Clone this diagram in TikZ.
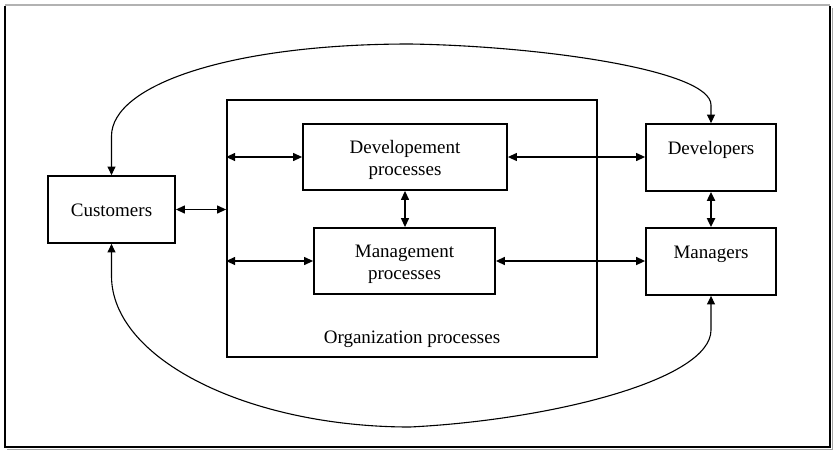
\documentclass[tikz,border=0pt]{standalone}
\usepackage{fontspec}
\setmainfont{Liberation Serif}
\usetikzlibrary{arrows.meta}

% centred lines of box text, set a little below the box's middle
\newcommand\boxtext[1]{\raisebox{-3pt}[\height][\depth]{%
  \begin{tabular}{@{}c@{}}#1\end{tabular}}}

\begin{document}
\begin{tikzpicture}[
  x=1pt, y=-1pt,
  every node/.style={font=\fontsize{19}{21.5}\selectfont, inner sep=0pt, align=center},
  box/.style={draw, line width=1.8pt},
  link/.style={line width=1.2pt, {Triangle[length=9pt,width=8pt]}-{Triangle[length=9pt,width=8pt]}},
  thicklink/.style={link, line width=2pt},
  loopline/.style={line width=1.1pt, {Triangle[length=8.5pt,width=8pt]}-{Triangle[length=8.5pt,width=8pt]}},
]
\useasboundingbox (0,0) rectangle (834,450);

% page frame
\draw[line width=1.8pt] (5,6) -- (5,447) -- (830,447) -- (830,6);
\draw[gray!60, line width=1.5pt] (5,5) -- (830,5);
\draw[gray!70, line width=1.4pt] (832.5,8) -- (832.5,449.3) -- (7,449.3);

% boxes
\node[box, minimum width=127, minimum height=67] (cust) at (111.5,209.5) {\boxtext{Customers}};
\node[box, minimum width=370, minimum height=257] (org) at (412,228.5) {};
\node[anchor=base] (orglabel) at ([yshift=14pt]org.south) {Organization processes};
\node[box, minimum width=204, minimum height=66] (devp) at (405,157) {\boxtext{Developement\\processes}};
\node[box, minimum width=181, minimum height=66] (mgmp) at (404.5,261) {\boxtext{Management\\processes}};
\node[box, minimum width=130, minimum height=67] (devs) at (711,157.5) {\boxtext{Developers\\\strut}};
\node[box, minimum width=130, minimum height=67] (mgrs) at (711,261.5) {\boxtext{Managers\\\strut}};

% straight two-way links
\draw[link] (cust.east) -- (cust.east -| org.west);
\draw[link] (org.west |- devp.west) -- (devp.west);
\draw[link] (org.west |- mgmp.west) -- (mgmp.west);
\draw[link] (devp.east) -- (devp.east -| devs.west);
\draw[link, line width=1.5pt] (mgmp.east) -- (mgmp.east -| mgrs.west);
\draw[link] (devp.south) -- (devp.south |- mgmp.north);
\draw[thicklink] (devs.south) -- (mgrs.north);

% outer loops
\coordinate (topmid) at (410,44);
\coordinate (botmid) at (410,427);
\draw[loopline]
  (cust.north) -- ++(0,-39)
  .. controls (111.5,85) and (230,44) .. (topmid)
  .. controls (540,46) and (711,70) .. (711,105)
  -- (devs.north);
\draw[loopline]
  (cust.south) -- ++(0,32)
  .. controls (111.5,360) and (250,427) .. (botmid)
  .. controls (550,420) and (711,380) .. (711,330)
  -- (mgrs.south);
\end{tikzpicture}
\end{document}
